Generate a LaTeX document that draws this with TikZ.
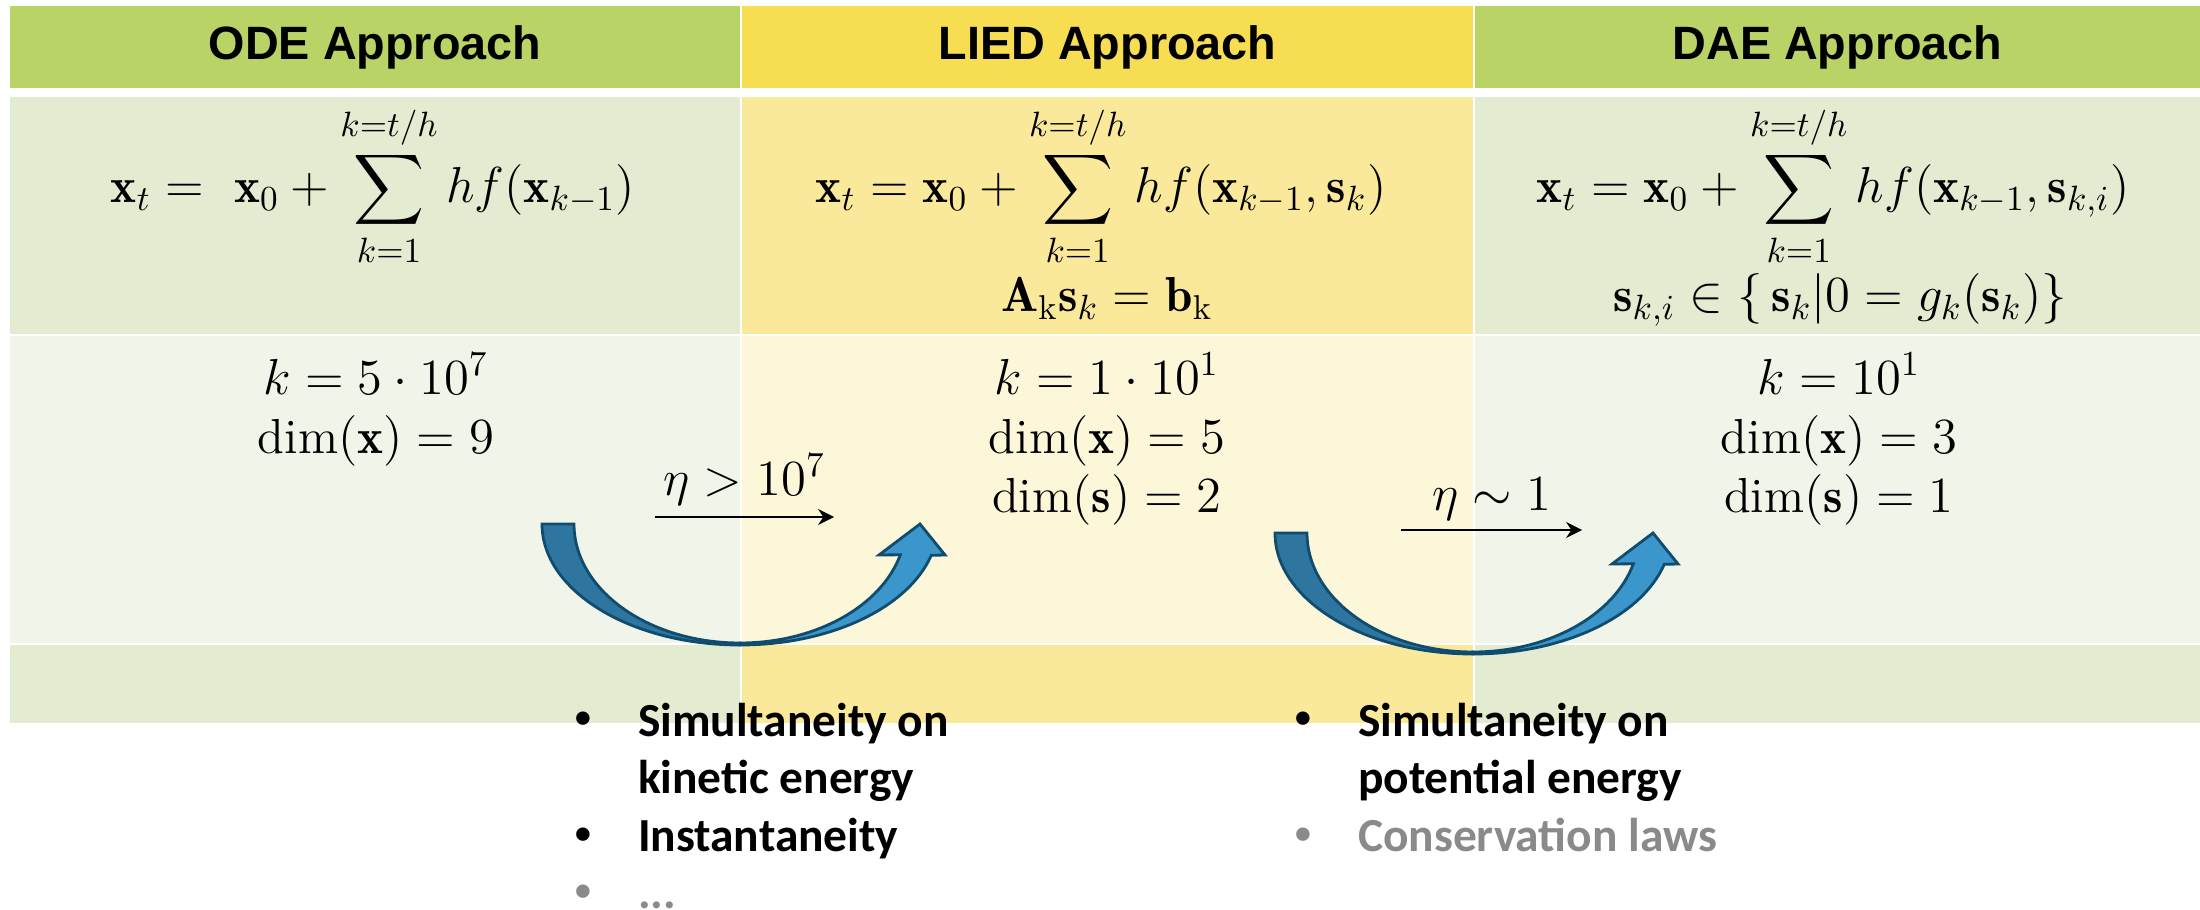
\documentclass[tikz,border=0pt]{standalone}
\usepackage{amsmath,amssymb}
\usepackage{fontspec}
\newfontfamily\headfont{Liberation Sans}
\newfontfamily\listfont{Carlito}
\usepackage{xcolor}
\usepackage{tikz}
\usetikzlibrary{arrows.meta,positioning,calc}

\definecolor{headgreen}{HTML}{B9D366}
\definecolor{headyellow}{HTML}{F7DD52}
\definecolor{midgreen}{HTML}{E3ECD1}
\definecolor{midyellow}{HTML}{FAE99A}
\definecolor{palegreen}{HTML}{F1F5E9}
\definecolor{paleyellow}{HTML}{FDF7DA}
\definecolor{arrowdark}{HTML}{2E76A0}
\definecolor{arrowlight}{HTML}{3B97CB}
\definecolor{arrowline}{HTML}{104C6E}
\definecolor{listgray}{HTML}{8A8A8A}

% small list bullet, lifted to mid height
\newcommand{\itemdot}{\makebox[4mm]{\raisebox{2.3pt}{\fontsize{9}{9}\selectfont •}}}

\begin{document}
\begin{tikzpicture}[
  every node/.style={inner sep=0pt, outer sep=0pt},
  headcell/.style={minimum height=8.2mm, font=\headfont\bfseries\fontsize{13.3}{16}\selectfont},
  rowtwo/.style={minimum height=23.7mm},
  rowthree/.style={minimum height=30.7mm},
  rowfour/.style={minimum height=7.8mm},
  colone/.style={minimum width=73mm},
  coltwo/.style={minimum width=73.1mm},
  colthree/.style={minimum width=72.5mm},
  eq/.style={font=\fontsize{14}{17}\selectfont, anchor=base},
  stats/.style={font=\fontsize{14}{16.8}\selectfont, align=center, anchor=north},
  bullets/.style={font=\listfont\bfseries\fontsize{13.5}{16.4}\selectfont, anchor=base west},
  ratearrow/.style={-{Stealth[length=4.5pt,width=4.5pt]}, line width=0.6pt},
  bendarrow/.pic={
    % back half of the turn
    \filldraw[fill=arrowdark, draw=arrowline, line width=0.8pt]
      (-1.98,1.21) arc[start angle=180, end angle=270, x radius=1.98, y radius=1.21]
      -- (0,0.02) arc[start angle=270, end angle=180, x radius=1.66, y radius=1.19] -- cycle;
    % front half with the head
    \filldraw[fill=arrowlight, draw=arrowline, line width=0.8pt, line join=miter]
      (0,0) arc[start angle=270, end angle=345, x radius=1.98, y radius=1.21]
      -- (2.05,0.90) -- (1.80,1.21) -- (1.39,0.90)
      -- ([shift={(0,1.21)}]345:1.66 and 1.19)
      arc[start angle=345, end angle=270, x radius=1.66, y radius=1.19] -- cycle;
  },
]
\useasboundingbox (0,0) rectangle (22,-9.1);

% Header row
\node[headcell, colone, fill=headgreen] (odehead) at (3.75,-0.47) {ODE Approach};
\node[headcell, coltwo, fill=headyellow, right=0.2mm of odehead] (liedhead) {LIED Approach};
\node[headcell, colthree, fill=headgreen, right=0.2mm of liedhead] (daehead) {DAE Approach};

% Body cells
\node[rowtwo, colone, fill=midgreen, below=0.9mm of odehead] (odetwo) {};
\node[rowtwo, coltwo, fill=midyellow, below=0.9mm of liedhead] (liedtwo) {};
\node[rowtwo, colthree, fill=midgreen, below=0.9mm of daehead] (daetwo) {};
\node[rowthree, colone, fill=palegreen, below=0.2mm of odetwo] (odethree) {};
\node[rowthree, coltwo, fill=paleyellow, below=0.2mm of liedtwo] (liedthree) {};
\node[rowthree, colthree, fill=palegreen, below=0.2mm of daetwo] (daethree) {};
\node[rowfour, colone, fill=midgreen, below=0.2mm of odethree] (odefour) {};
\node[rowfour, coltwo, fill=midyellow, below=0.2mm of liedthree] (liedfour) {};
\node[rowfour, colthree, fill=midgreen, below=0.2mm of daethree] (daefour) {};

% Update formulas
\node[eq] (odeeq) at (3.73,-2.03)
  {$\displaystyle \mathbf{x}_t =\ \mathbf{x}_0 + \sum_{k=1}^{k=t/h} hf(\mathbf{x}_{k-1})$};
\node[eq] (liedeq) at (11.01,-2.03)
  {$\displaystyle \mathbf{x}_t = \mathbf{x}_0 + \sum_{k=1}^{k=t/h} hf(\mathbf{x}_{k-1},\mathbf{s}_k)$};
\node[eq] (liedlin) at (11.07,-3.12)
  {$\mathbf{A}_\mathrm{k}\mathbf{s}_k = \mathbf{b}_\mathrm{k}$};
\node[eq] (daeeq) at (18.33,-2.03)
  {$\displaystyle \mathbf{x}_t = \mathbf{x}_0 + \sum_{k=1}^{k=t/h} hf(\mathbf{x}_{k-1},\mathbf{s}_{k,i})$};
\node[eq] (daeset) at (18.40,-3.12)
  {$\mathbf{s}_{k,i} \in \{\,\mathbf{s}_k | 0 = g_k(\mathbf{s}_k)\}$};

% Sizes
\node[stats] (odestat) at (3.76,-3.53) {$k = 5\cdot 10^7$\\ $\dim(\mathbf{x}) = 9$};
\node[stats] (liedstat) at (11.07,-3.53) {$k = 1\cdot 10^1$\\ $\dim(\mathbf{x}) = 5$\\ $\dim(\mathbf{s}) = 2$};
\node[stats] (daestat) at (18.39,-3.53) {$k = 10^1$\\ $\dim(\mathbf{x}) = 3$\\ $\dim(\mathbf{s}) = 1$};

% Speed-up arrows
\coordinate (upa) at (6.55,-5.17);
\coordinate (upb) at (8.34,-5.17);
\coordinate (downa) at (14.01,-5.30);
\coordinate (downb) at (15.82,-5.30);
\draw[ratearrow] (upa) -- (upb) node[midway, above=1.2mm, font=\fontsize{14}{17}\selectfont] (etaup) {$\eta > 10^7$};
\draw[ratearrow] (downa) -- (downb) node[midway, above=1.0mm, font=\fontsize{14}{17}\selectfont] (etadown) {$\eta \sim 1$};

% Turn arrows
\pic at (7.40,-6.45) {bendarrow};
\pic at (14.73,-6.54) {bendarrow};

% What each step adds
\node[bullets] (kinlist) at (5.63,-7.36) {%
  \begin{tabular}[t]{@{}l@{\hspace{3.5mm}}l@{}}
  \itemdot & Simultaneity on\\
  & kinetic energy\\
  \itemdot & Instantaneity\\
  \color{listgray}\itemdot & \color{listgray}...
  \end{tabular}};
\node[bullets] (potlist) at (12.83,-7.36) {%
  \begin{tabular}[t]{@{}l@{\hspace{3.5mm}}l@{}}
  \itemdot & Simultaneity on\\
  & potential energy\\
  \color{listgray}\itemdot & \color{listgray}Conservation laws
  \end{tabular}};

\end{tikzpicture}
\end{document}
